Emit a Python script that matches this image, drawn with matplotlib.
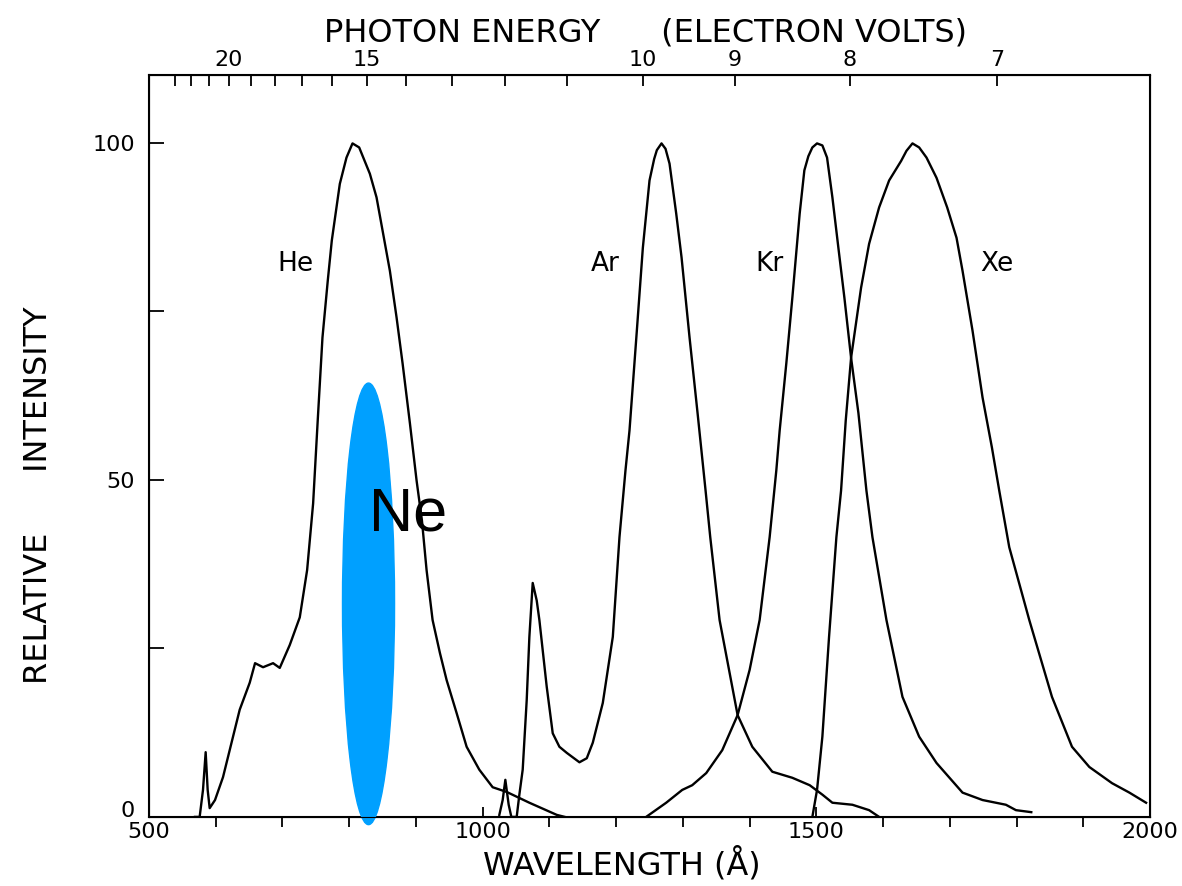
import numpy as np
import matplotlib.pyplot as plt
from matplotlib.patches import Ellipse
from matplotlib.transforms import ScaledTranslation

he_wl = [569, 576, 581, 585, 588, 591, 599, 611, 636, 651, 659, 671, 686, 696, 711, 726, 737, 746,
         753, 760, 768, 774, 781, 786, 796, 805, 815, 831, 841, 850, 861, 871, 880, 891, 901, 909,
         916, 925, 936, 946, 961, 976, 995, 1015, 1036, 1070, 1111, 1123]
he_int = [0, 0, 4, 9.6, 4, 1.3, 2.5, 5.9, 15.9, 19.9, 22.8, 22.2, 22.8, 22.1, 25.5, 29.6, 36.6, 46.5,
          59.0, 71.1, 79.6, 85.5, 90.4, 93.9, 97.8, 99.9, 99.3, 95.4, 91.9, 87.0, 81.0, 74.1, 67.3, 58.4, 49.9, 44.0,
          36.6, 29.2, 24.3, 20.3, 15.4, 10.4, 7.0, 4.4, 3.7, 2.1, 0.3, 0]

ar_wl = [1025, 1030, 1034, 1039, 1043, 1051, 1055, 1060, 1066, 1070, 1075, 1081, 1085, 1096, 1105,
         1115, 1126, 1145, 1156, 1165, 1180, 1195, 1205, 1214, 1220, 1231, 1240, 1250, 1257, 1261,
         1268, 1274, 1280, 1290, 1298, 1310, 1322, 1334, 1341, 1355, 1382, 1404, 1434, 1464, 1490,
         1509, 1524, 1554, 1579, 1594]
ar_int = [0.3, 2.5, 5.5, 1.8, 0, 0, 3.3, 7.0, 17.3, 26.7, 34.7, 32.1, 29.2, 19.3, 12.4,
          10.4, 9.5, 8.1, 8.7, 11.0, 16.9, 26.7, 41.5, 51.4, 57.3, 72.1, 84.4, 94.4, 97.6, 98.9,
          99.9, 99.1, 96.9, 89.5, 83.0, 71.1, 59.9, 48.4, 41.5, 29.2, 15.1, 10.4, 6.7, 5.8, 4.7,
          3.3, 2.1, 1.8, 1.0, 0]

kr_wl = [1245, 1275, 1299, 1314, 1335, 1359, 1382, 1400, 1415, 1430, 1440, 1445, 1455, 1464, 1475,
         1482, 1488, 1494, 1501, 1509, 1516, 1524, 1533, 1542, 1552, 1563, 1575, 1584, 1605, 1629,
         1654, 1680, 1719, 1749, 1784, 1799, 1822]
kr_int = [0, 2.1, 4.0, 4.7, 6.5, 9.9, 15.1, 21.8, 29.2, 41.5, 51.4, 57.3, 67.3, 77.0, 89.5,
          95.9, 98.0, 99.3, 99.9, 99.6, 97.8, 91.9, 84.4, 77.0, 68.1, 59.9, 48.4, 41.5, 29.2, 17.8,
          11.9, 8.0, 3.6, 2.5, 1.8, 1.0, 0.7]

xe_wl = [1494, 1501, 1509, 1519, 1530, 1537, 1544, 1552, 1567, 1579, 1594, 1609, 1627, 1635, 1644,
         1654, 1665, 1680, 1696, 1710, 1719, 1734, 1749, 1763, 1774, 1789, 1819, 1853, 1883, 1909,
         1943, 1969, 1994]
xe_int = [0, 4.0, 11.9, 26.7, 41.5, 48.4, 58.8, 68.1, 78.5, 85.0, 90.4, 94.4, 97.3, 98.8, 99.9,
          99.3, 97.8, 94.8, 90.4, 85.9, 81.0, 72.1, 62.2, 54.8, 48.4, 40.0, 29.2, 17.8, 10.4, 7.4,
          5.0, 3.6, 2.1]

# labels for the curves
gas_names = ['He', 'Ar', 'Kr', 'Xe']
gas_label_wl = [719, 1183, 1430, 1771]

# photon energy scale (eV) on top
energy_ticks = [23, 22, 21, 20, 19, 18, 17, 16, 15, 14, 13, 12, 11, 10, 9, 8, 7]
energy_labels = ['20', '15', '10', '9', '8', '7']

fig = plt.figure(figsize=(11.82, 8.86), dpi=100)
ax = fig.add_axes([0.126, 0.078, 0.847, 0.837])

for wl, inten in [(he_wl, he_int), (ar_wl, ar_int), (kr_wl, kr_int), (xe_wl, xe_int)]:
    ax.plot(wl, inten, color='black', linewidth=1.7, solid_joinstyle='round')

for name, wl in zip(gas_names, gas_label_wl):
    ax.text(wl, 82, name, fontsize=19, ha='center', va='center')

# blue marker for Ne
ne = Ellipse((829, 31.6), width=78, height=65.5, color='#00A0FF', clip_on=False, zorder=3)
ax.add_patch(ne)
ax.text(829, 42.5, 'Ne', fontsize=44, ha='left', va='baseline',
        family='Liberation Sans', zorder=4)

ax.set_xlim(500, 2000)
ax.set_ylim(0, 110)

ax.set_xticks([500, 1000, 1500, 2000])
ax.set_xticks(np.arange(600, 2000, 100), minor=True)
ax.set_yticks([0, 25, 50, 75, 100])
ax.set_yticklabels(['0', '', '50', '', '100'])
ax.tick_params(axis='both', direction='in', labelsize=16, width=1.3)
ax.tick_params(axis='x', which='major', length=7, pad=4)
ax.tick_params(axis='x', which='minor', length=7, width=1.3)
ax.tick_params(axis='y', length=11, pad=10)

# the "0" sits a little above the corner, clear of "500"
zero = ax.get_yticklabels()[0]
zero.set_transform(zero.get_transform() + ScaledTranslation(0, 6 / 72, fig.dpi_scale_trans))

for s in ax.spines.values():
    s.set_linewidth(1.5)

ax.set_xlabel('WAVELENGTH (Å)', fontsize=23)
ax.xaxis.set_label_coords(0.4725, -0.041)
ax.set_ylabel('RELATIVE      INTENSITY', fontsize=23)
ax.yaxis.set_label_coords(-0.095, 0.434)

# top axis in photon energy
top = ax.twiny()
top.set_xlim(ax.get_xlim())
top.set_xticks([12398 / e for e in energy_ticks])
top.set_xticklabels([str(e) if str(e) in energy_labels else '' for e in energy_ticks])
top.tick_params(axis='x', direction='in', length=8, width=1.3, labelsize=16, pad=4)
top.set_xlabel('PHOTON ENERGY      (ELECTRON VOLTS)', fontsize=23)
top.xaxis.set_label_coords(0.4955, 1.046)

fig.savefig('out.png', dpi=100)
